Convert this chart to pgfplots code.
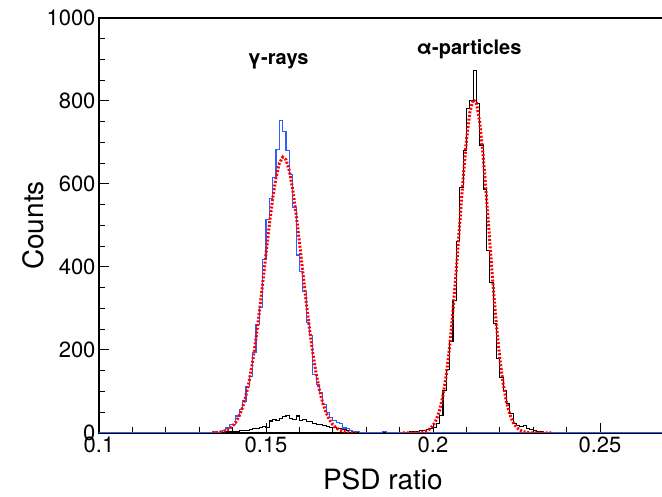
\documentclass[border=0pt]{standalone}
\usepackage{fontspec}
\setmainfont{TeX Gyre Heros}
\usepackage{pgfplots}
\pgfplotsset{compat=1.18}
\definecolor{histblue}{RGB}{45,95,255}
\definecolor{fitred}{RGB}{255,0,0}
\begin{document}
\begin{tikzpicture}
\begin{axis}[
  at={(0pt,0pt)}, anchor=south west,
  scale only axis, width=567.8pt, height=415pt,
  xmin=0.1, xmax=0.27, ymin=0, ymax=1000,
  xtick={0.1,0.15,0.2,0.25}, minor x tick num=4,
  ytick={0,200,400,600,800,1000}, minor y tick num=3,
  tick pos=left, tick align=inside,
  major tick length=10pt, minor tick length=6pt,
  tick style={line width=1pt, black},
  axis line style={line width=1.5pt},
  tick label style={font=\fontsize{22}{26}\selectfont},
  /pgf/number format/assume math mode=true,
  /pgf/number format/1000 sep={},
  xlabel={PSD ratio}, ylabel={Counts},
  every axis x label/.style={at={(axis description cs:0.5,-0.1373)}, anchor=base, font=\fontsize{28}{32}\selectfont},
  every axis y label/.style={at={(axis description cs:-0.1162,0.5)}, anchor=center, rotate=90, font=\fontsize{28}{32}\selectfont},
]
% black histogram (alpha source)
\addplot[const plot mark left, black, line width=1.1pt] coordinates {
(0.09,0) (0.117,2) (0.118,0) (0.126,2) (0.127,0) (0.131,1) (0.132,0) (0.137,2) (0.138,3) (0.139,3)
(0.140,3) (0.141,4) (0.142,5) (0.143,6) (0.144,6) (0.145,8) (0.146,10) (0.147,11) (0.148,14) (0.149,16)
(0.150,14) (0.151,29) (0.152,32) (0.153,30) (0.154,36) (0.155,40) (0.156,43) (0.157,35) (0.158,32) (0.159,41)
(0.160,30) (0.161,32) (0.162,27) (0.163,28) (0.164,22) (0.165,20) (0.166,21) (0.167,18) (0.168,16) (0.169,14)
(0.170,13) (0.171,11) (0.172,10) (0.173,8) (0.174,7) (0.175,5) (0.176,4) (0.177,3) (0.178,2) (0.179,2)
(0.180,1) (0.181,0) (0.183,1) (0.184,0) (0.188,1) (0.189,0)
(0.192,2) (0.193,3) (0.194,4) (0.195,3) (0.196,5) (0.197,6) (0.198,8) (0.199,10)
(0.200,14) (0.201,22) (0.202,42) (0.203,102) (0.204,154) (0.205,220) (0.206,319) (0.207,461) (0.208,592) (0.209,680)
(0.210,781) (0.211,801) (0.212,873) (0.213,793) (0.214,694) (0.215,588) (0.216,439) (0.217,363) (0.218,263) (0.219,180)
(0.220,134) (0.221,102) (0.222,70) (0.223,46) (0.224,22) (0.225,19) (0.226,16) (0.227,18) (0.228,11) (0.229,8)
(0.230,6) (0.231,4) (0.232,3) (0.233,2) (0.234,1) (0.235,0) (0.237,1) (0.238,0) (0.30,0)
};
% blue histogram (gamma source)
\addplot[const plot mark left, histblue, line width=1.1pt] coordinates {
(0.09,0) (0.115,2) (0.116,0) (0.132,2) (0.133,0) (0.134,3) (0.135,2)
(0.136,3) (0.137,6) (0.138,12) (0.139,20)
(0.140,21) (0.141,41) (0.142,57) (0.143,77) (0.144,113) (0.145,137) (0.146,194) (0.147,262) (0.148,302) (0.149,418)
(0.150,515) (0.151,565) (0.152,615) (0.153,683) (0.154,753) (0.155,726) (0.156,680) (0.157,623) (0.158,543) (0.159,429)
(0.160,390) (0.161,342) (0.162,266) (0.163,234) (0.164,141) (0.165,117) (0.166,97) (0.167,69) (0.168,49) (0.169,37)
(0.170,30) (0.171,25) (0.172,22) (0.173,12) (0.174,10) (0.175,6) (0.176,4) (0.177,3) (0.178,2) (0.179,1)
(0.180,0) (0.182,2) (0.183,0) (0.185,3) (0.186,2) (0.187,0) (0.197,1) (0.198,0) (0.30,0)
};
% gaussian fit, gamma peak
\addplot[fitred, line width=3pt, dash pattern=on 2pt off 1.7pt] coordinates {
(0.134,0.5) (0.135,1.0) (0.136,1.9) (0.137,3.4) (0.138,6.0) (0.139,10.1)
(0.140,16.7) (0.141,26.7) (0.142,41.4) (0.143,62.0) (0.144,90.0) (0.145,126.5) (0.146,172.6) (0.147,227.6) (0.148,291.0) (0.149,360.2)
(0.150,432.1) (0.151,502.0) (0.152,564.8) (0.153,615.6) (0.154,649.9) (0.155,664.6) (0.156,658.3) (0.157,631.6) (0.158,586.9) (0.159,528.3)
(0.160,460.6) (0.161,389.0) (0.162,318.1) (0.163,252.1) (0.164,193.5) (0.165,143.8) (0.166,103.6) (0.167,72.2) (0.168,48.8) (0.169,31.9)
(0.170,20.2) (0.171,12.4) (0.172,7.4) (0.173,4.3) (0.174,2.4) (0.175,1.3) (0.176,0.7) (0.177,0.3)
};
% gaussian fit, alpha peak
\addplot[fitred, line width=3pt, dash pattern=on 2pt off 1.7pt] coordinates {
(0.191,0.0) (0.192,0.0) (0.193,0.1) (0.194,0.2) (0.195,0.4) (0.196,1.0) (0.197,2.2) (0.198,4.6) (0.199,9.3)
(0.200,17.7) (0.201,32.0) (0.202,55.2) (0.203,90.6) (0.204,141.4) (0.205,209.7) (0.206,295.6) (0.207,396.1) (0.208,504.7) (0.209,611.5)
(0.210,704.4) (0.211,771.4) (0.212,803.2) (0.213,795.1) (0.214,748.3) (0.215,669.7) (0.216,569.7) (0.217,460.8) (0.218,354.4) (0.219,259.2)
(0.220,180.2) (0.221,119.1) (0.222,74.8) (0.223,44.7) (0.224,25.4) (0.225,13.7) (0.226,7.0) (0.227,3.4) (0.228,1.6) (0.229,0.7)
(0.230,0.3) (0.232,0.0) (0.234,0.0) (0.236,0.0)
};
\node[font=\bfseries\fontsize{20}{24}\selectfont, anchor=base] at (axis cs:0.1536,889) {γ-rays};
\node[font=\bfseries\fontsize{20}{24}\selectfont, anchor=base] at (axis cs:0.2108,911) {α-particles};
\end{axis}
\pgfresetboundingbox
\path[use as bounding box] (-99pt,-64pt) rectangle (563pt,433pt);
\end{tikzpicture}
\end{document}
